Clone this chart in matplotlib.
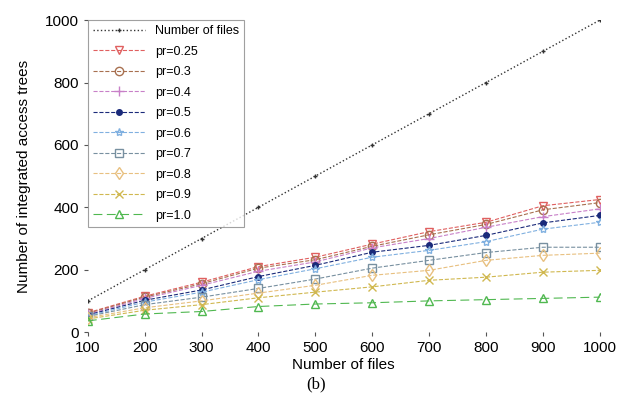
import numpy as np
import matplotlib.pyplot as plt

plt.rcParams['font.family'] = ['Liberation Sans', 'DejaVu Sans']

files = [100, 200, 300, 400, 500, 600, 700, 800, 900, 1000]
num_files = [100, 200, 300, 400, 500, 600, 700, 800, 900, 1000]
pr_025 = [62, 115, 160, 210, 240, 282, 322, 352, 405, 425]
pr_03 = [60, 112, 155, 205, 232, 275, 312, 345, 392, 415]
pr_04 = [57, 108, 150, 195, 225, 270, 300, 336, 370, 395]
pr_05 = [55, 102, 135, 178, 214, 256, 278, 310, 350, 374]
pr_06 = [52, 96, 128, 168, 203, 240, 262, 290, 330, 352]
pr_07 = [50, 88, 112, 140, 170, 205, 230, 255, 272, 272]
pr_08 = [46, 78, 100, 125, 150, 182, 198, 230, 246, 253]
pr_09 = [42, 70, 88, 110, 128, 145, 166, 176, 192, 198]
pr_10 = [36, 58, 66, 82, 90, 94, 100, 104, 108, 112]

fig = plt.figure(figsize=(6.32, 4.11), dpi=100)
ax = fig.add_axes([0.139, 0.192, 0.81, 0.759])

ax.plot(files, num_files, ':', color='#333333', lw=1, marker='+', ms=3, label='Number of files')
ax.plot(files, pr_025, '--', color='#e06060', lw=0.8, marker='v', ms=6, mfc='none', label='pr=0.25')
ax.plot(files, pr_03, '--', color='#a87050', lw=0.8, marker='o', ms=6, mfc='none', label='pr=0.3')
ax.plot(files, pr_04, '--', color='#c880c8', lw=0.8, marker='+', ms=7, label='pr=0.4')
ax.plot(files, pr_05, '--', color='#1a2a7a', lw=0.8, marker='o', ms=4, label='pr=0.5')
ax.plot(files, pr_06, '--', color='#80b0e0', lw=0.8, marker='*', ms=6, mfc='none', label='pr=0.6')
ax.plot(files, pr_07, '--', color='#7890a0', lw=0.8, marker='s', ms=6, mfc='none', label='pr=0.7')
ax.plot(files, pr_08, '--', color='#e8c080', lw=0.8, marker='d', ms=6, mfc='none', label='pr=0.8')
ax.plot(files, pr_09, '--', color='#d0b850', lw=0.8, marker='x', ms=6, label='pr=0.9')
ax.plot(files, pr_10, '--', color='#50b850', lw=0.8, dashes=(8, 4), marker='^', ms=6, mfc='none', label='pr=1.0')

ax.set_xlim(100, 1000)
ax.set_ylim(0, 1000)
ax.set_xticks(files)
ax.set_yticks([0, 200, 400, 600, 800, 1000])
for s in ax.spines.values():
    s.set_visible(False)
ax.tick_params(length=3, width=0.8, color='#555555', labelsize=11)
ax.set_xlabel('Number of files', fontsize=11, labelpad=2)
ax.set_ylabel('Number of integrated access trees', fontsize=11, labelpad=10)

leg = ax.legend(loc='upper left', fontsize=9, frameon=True, fancybox=False,
                borderaxespad=0, handlelength=4.2, labelspacing=0.68)
leg.get_frame().set_edgecolor('#888888')
leg.get_frame().set_linewidth(0.8)

fig.text(0.5, 0.055, '(b)', ha='center', fontsize=12, family='Liberation Serif')

plt.savefig('out.png', dpi=100)
